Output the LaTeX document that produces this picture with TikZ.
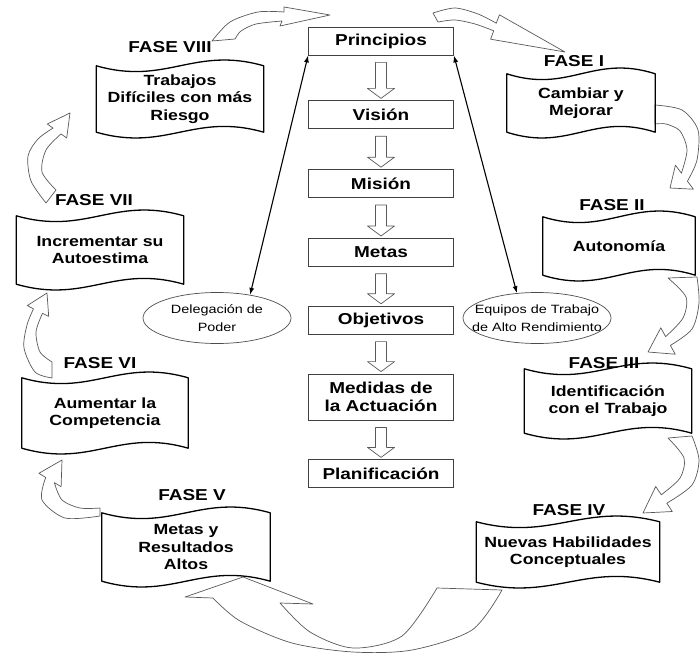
\documentclass[tikz,border=0pt]{standalone}
\usepackage{fontspec}
\setmainfont{Liberation Sans}[FakeStretch=1.2]
\usetikzlibrary{positioning}
\usetikzlibrary{shapes.geometric}
\usetikzlibrary{calc}
\usetikzlibrary{arrows.meta}

\tikzset{
  stage/.style={draw=black!75, line width=0.8pt, minimum width=145pt, minimum height=28pt, inner sep=0pt, align=center, font=\fontsize{15.8}{18.5}\selectfont\bfseries},
  fase/.style={inner sep=0pt, font=\fontsize{15.8}{18}\selectfont\bfseries},
  scroll/.style={inner sep=0pt, align=center, font=\fontsize{14.75}{17.5}\selectfont\bfseries},
  waveline/.style={draw=black, line width=1.3pt, line join=round},
  oval/.style={ellipse, draw=black!70, line width=0.7pt, minimum width=148pt, minimum height=51pt, inner xsep=-14pt, inner ysep=-2pt, align=center, font=\fontsize{12}{18}\selectfont},
  hollow/.style={draw=black!65, line width=0.7pt, fill=white, line join=round},
  dbl/.style={{Latex[length=7pt,width=5pt]}-{Latex[length=7pt,width=5pt]}, line width=1.1pt}
}

\begin{document}
\begin{tikzpicture}[x=1pt, y=-1pt]
\useasboundingbox (0,0) rectangle (700,655);

% curved arrows of the cycle
\draw[hollow] plot[smooth] coordinates {(212,41) (230,22) (258,12) (284,12)} -- (284,7) -- (330,15) -- (280,26) -- (282,21)
  -- plot[smooth] coordinates {(282,21) (256,24) (241,31) (235,39)} -- cycle;
\draw[hollow] plot[smooth] coordinates {(433,13) (455,8) (478,14) (496.3,23.2)} -- (499.4,14.8) -- (565,52) -- (490.6,39.2) -- (493.7,30.8)
  -- plot[smooth] coordinates {(493.7,30.8) (475,24) (455,20) (438,22)} -- cycle;
\draw[hollow] plot[smooth] coordinates {(655,105) (682,110) (698,130) (697,160) (687.4,181.2)} -- (693.4,189.2) -- (670,188) -- (675.4,165.2) -- (681.4,173.2)
  -- plot[smooth] coordinates {(681.4,173.2) (687,150) (680,131) (666,124) (655,124)} -- cycle;
\draw[hollow] plot[smooth] coordinates {(697,277) (699,303) (692,329) (670.4,345.4)} -- (675.2,354.2) -- (648,352) -- (660.8,327.8) -- (665.6,336.6)
  -- plot[smooth] coordinates {(665.6,336.6) (683,318) (686,297) (668,278)} -- cycle;
\draw[hollow] plot[smooth] coordinates {(692,436) (699,460) (692,485) (666.8,503.2)} -- (672.3,511.5) -- (643,513) -- (655.7,486.5) -- (661.3,494.8)
  -- plot[smooth] coordinates {(661.3,494.8) (680,478) (684,458) (668,438)} -- cycle;
\draw[hollow] plot[smooth] coordinates {(502,590) (472,630) (412,650) (353,652) (292,643) (240,621) (213,598)} -- (185,597) -- (243,577) -- (313,604) -- (280,603)
  -- plot[smooth] coordinates {(280,603) (310,632) (353,648) (402,636) (437,588)} -- cycle;
\draw[hollow] plot[smooth] coordinates {(100,516) (65,518) (42,500) (45.7,477.4)} -- (38.9,473.3) -- (62,460) -- (61.1,486.7) -- (54.3,482.6)
  -- plot[smooth] coordinates {(54.3,482.6) (62,500) (80,508) (100,508)} -- cycle;
\draw[hollow] plot[smooth] coordinates {(52,378) (35,372) (24,348) (27,325) (33.5,308.8)} -- (27.3,305.6) -- (47,293) -- (48.7,316.4) -- (42.5,313.3)
  -- plot[smooth] coordinates {(42.5,313.3) (36,332) (40,352) (52,362)} -- cycle;
\draw[hollow] plot[smooth] coordinates {(46,203) (31,181) (28,156) (38,139) (53,128.1)} -- (47.3,124) -- (70,113) -- (66.7,138) -- (61,133.9)
  -- plot[smooth] coordinates {(61,133.9) (46,150) (42,172) (56,190)} -- cycle;

\node[stage] (pr) at (381,41) {Principios};
\node[stage, below=45pt of pr] (vi) {Visión};
\node[stage, below=40pt of vi] (mi) {Misión};
\node[stage, below=40pt of mi] (me) {Metas};
\node[stage, below=39pt of me] (ob) {Objetivos};
\node[stage, below=39pt of ob, minimum height=46pt] (md) {Medidas de\\la Actuación};
\node[stage, below=39pt of md] (pl) {Planificación};

\foreach \a/\b in {pr/vi,vi/mi,mi/me,me/ob,ob/md,md/pl}
  \draw[hollow] ($(\a.south)+(-5.5,7)$) -- ($(\b.north)+(-5.5,-12)$) -- ($(\b.north)+(-13.5,-12)$) -- ($(\b.north)+(0,-2)$)
    -- ($(\b.north)+(13.5,-12)$) -- ($(\b.north)+(5.5,-12)$) -- ($(\a.south)+(5.5,7)$) -- cycle;

\node[scroll, minimum width=148pt, minimum height=58pt] (f1) at (581,103) {Cambiar y\\Mejorar};
\node[scroll, minimum width=152pt, minimum height=58pt] (f2) at (619,246) {Autonomía};
\node[scroll, minimum width=167pt, minimum height=64pt] (f3) at (608,401) {Identificación\\con el Trabajo};
\node[scroll, minimum width=183pt, minimum height=60pt] (f4) at (568,552) {Nuevas Habilidades\\Conceptuales};
\node[scroll, minimum width=168pt, minimum height=68pt] (f5) at (186,547) {Metas y\\Resultados\\Altos};
\node[scroll, minimum width=166pt, minimum height=70pt] (f6) at (105,413) {Aumentar la\\Competencia};
\node[scroll, minimum width=167pt, minimum height=68pt] (f7) at (100,250) {Incrementar su\\Autoestima};
\node[scroll, minimum width=167pt, minimum height=66pt] (f8) at (180,99) {Trabajos\\Difíciles con más\\Riesgo};

\foreach \s/\w in {f1/148,f2/152,f3/167,f4/183,f5/168,f6/166,f7/167,f8/167}
  \draw[waveline] (\s.north west) .. controls +(0.42*\w,20) and +(-0.42*\w,-20) .. (\s.north east)
    -- (\s.south east) .. controls +(-0.42*\w,-20) and +(0.42*\w,20) .. (\s.south west) -- cycle;

\node[fase] (l1) at (574,61) {FASE I};
\node[fase] (l2) at (612,205) {FASE II};
\node[fase] (l3) at (604,363) {FASE III};
\node[fase] (l4) at (569,510) {FASE IV};
\node[fase] (l5) at (192,495) {FASE V};
\node[fase] (l6) at (100,363) {FASE VI};
\node[fase] (l7) at (94,200) {FASE VII};
\node[fase] (l8) at (170,47) {FASE VIII};

\node[oval] (del) at (217,318) {Delegación de\\Poder};
\node[oval] (eq) at (537,318) {Equipos de Trabajo\\de Alto Rendimiento};

\draw[dbl] (del.35) -- (pr.south west);
\draw[dbl] (pr.south east) -- (eq.129);

\end{tikzpicture}
\end{document}
